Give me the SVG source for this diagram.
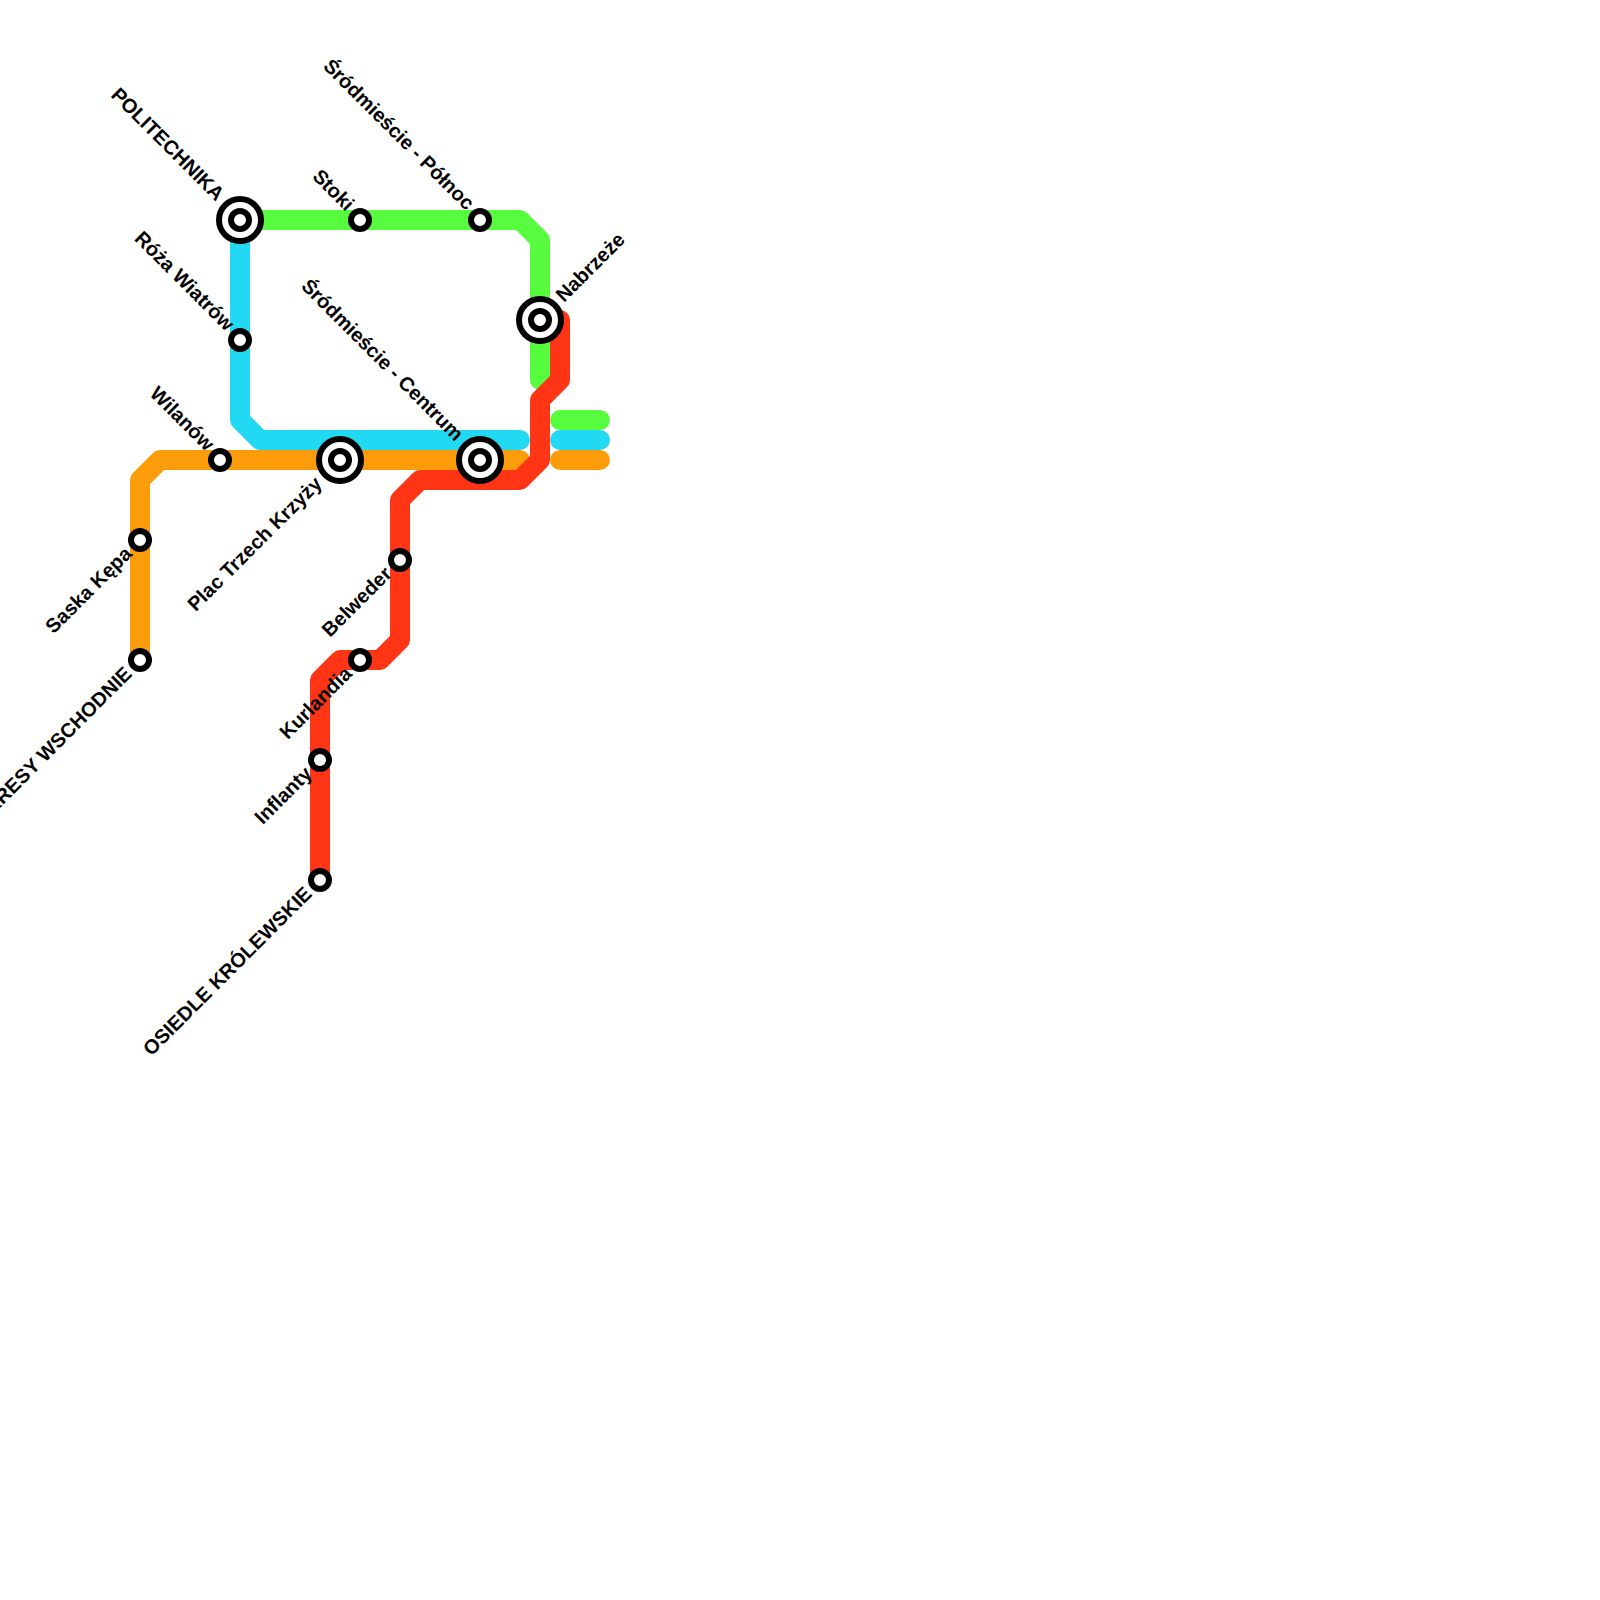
<svg xmlns="http://www.w3.org/2000/svg" width="1600" height="1600" viewBox="0 0 1600 1600">
<style>
.l{fill:none;stroke-width:20;stroke-linecap:round;stroke-linejoin:round}
.g{stroke:#58fc3f}.b{stroke:#22d9f4}.o{stroke:#fd9c0a}.r{stroke:#ff3516}
.s{fill:#fff;stroke:#000;stroke-width:6}
text{font-family:"Liberation Sans",Arial,sans-serif;font-size:20px;font-weight:bold;fill:#000;text-rendering:geometricPrecision}
.e{text-anchor:end}
</style>
<rect width="1600" height="1600" fill="#fff"/>
<g id="connectors">
<path class="l g" d="M240 220H520L540 240V380"/>
<path class="l b" d="M240 220V420L260 440H520"/>
<path class="l o" d="M140 660V480L160 460H520"/>
<path class="l r" d="M320 880V680L340 660H380L400 640V500L420 480H520L540 460V400L560 380V320"/>
<path class="l g" d="M560 420H600"/>
<path class="l b" d="M560 440H600"/>
<path class="l o" d="M560 460H600"/>
</g>
<g id="n-politechnika"><circle class="s" cx="240" cy="220" r="21"/><circle class="s" cx="240" cy="220" r="9"/><text class="e" transform="translate(216 202) rotate(45)">POLITECHNIKA</text></g>
<g id="n-stoki"><circle class="s" cx="360" cy="220" r="9"/><text class="e" transform="translate(346 212) rotate(45)">Stoki</text></g>
<g id="n-polnoc"><circle class="s" cx="480" cy="220" r="9"/><text class="e" transform="translate(466 211) rotate(45)">Śródmieście - Północ</text></g>
<g id="n-roza"><circle class="s" cx="240" cy="340" r="9"/><text class="e" transform="translate(226 332) rotate(45)">Róża Wiatrów</text></g>
<g id="n-nabrzeze"><circle class="s" cx="540" cy="320" r="21"/><circle class="s" cx="540" cy="320" r="9"/><text transform="translate(564 303) rotate(-45)">Nabrzeże</text></g>
<g id="n-wilanow"><circle class="s" cx="220" cy="460" r="9"/><text class="e" transform="translate(206 452) rotate(45)">Wilanów</text></g>
<g id="n-plac"><circle class="s" cx="340" cy="460" r="21"/><circle class="s" cx="340" cy="460" r="9"/><text class="e" transform="translate(323 485) rotate(-45)">Plac Trzech Krzyży</text></g>
<g id="n-centrum"><circle class="s" cx="480" cy="460" r="21"/><circle class="s" cx="480" cy="460" r="9"/><text class="e" transform="translate(455 442) rotate(45)">Śródmieście - Centrum</text></g>
<g id="n-saska"><circle class="s" cx="140" cy="540" r="9"/><text class="e" transform="translate(133 555) rotate(-45)">Saska Kępa</text></g>
<g id="n-kresy"><circle class="s" cx="140" cy="660" r="9"/><text class="e" transform="translate(133 675) rotate(-45)">KRESY WSCHODNIE</text></g>
<g id="n-belweder"><circle class="s" cx="400" cy="560" r="9"/><text class="e" transform="translate(393 575) rotate(-45)">Belweder</text></g>
<g id="n-kurlandia"><circle class="s" cx="360" cy="660" r="9"/><text class="e" transform="translate(353 675) rotate(-45)">Kurlandia</text></g>
<g id="n-inflanty"><circle class="s" cx="320" cy="760" r="9"/><text class="e" transform="translate(313 775) rotate(-45)">Inflanty</text></g>
<g id="n-osiedle"><circle class="s" cx="320" cy="880" r="9"/><text class="e" transform="translate(313 895) rotate(-45)">OSIEDLE KRÓLEWSKIE</text></g>
</svg>
